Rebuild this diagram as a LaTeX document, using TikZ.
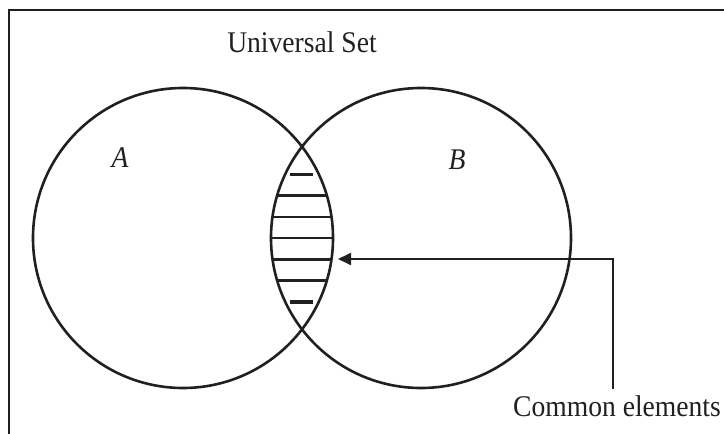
\documentclass[tikz,border=0pt]{standalone}
\usepackage{fontspec}
\setmainfont{Liberation Serif}[FakeStretch=0.92]
\usepackage{tikz}
\usetikzlibrary{arrows.meta, positioning, calc}
\definecolor{mydark}{RGB}{35,31,32}
\tikzset{
  setcircle/.style={circle, draw=mydark, minimum size=150pt,
    inner sep=0pt, line width=1.3pt},
  frameline/.style={draw=mydark, line width=1.3pt},
  hatch/.style={mydark, line width=1.2pt},
  shorthatch/.style={mydark, line width=1.6pt},
  pointer/.style={-{Triangle[length=6.5pt, width=6pt]}, line width=0.9pt, color=mydark},
  label/.style={font=\fontsize{15}{18}\selectfont, text=mydark, inner sep=0pt}
}

\begin{document}
\begin{tikzpicture}[x=0.5pt, y=-0.5pt]
  \useasboundingbox (0,0) rectangle (724,434);
  \clip (0,0) rectangle (724,434);

  % Frame (universal set)
  \draw[frameline] (9,10) rectangle (760,470);
  \node[label] (univ) at (302,42) {Universal Set};

  % Sets
  \node[setcircle] (setA) at (183,238) {};
  \node[setcircle] (setB) at (421,238) {};
  \node[label] (labA) at (120,158) {\textit{A}};
  \node[label] (labB) at (457,160) {\textit{B}};

  % Hatching of the intersection
  \begin{scope}
    \clip (setA.center) circle (75pt);
    \clip (setB.center) circle (75pt);
    \foreach \k in {-2,...,2}
      \draw[hatch] (250,238+21.3*\k) -- (360,238+21.3*\k);
  \end{scope}
  \draw[shorthatch] (290,174.5) -- (313,174.5);
  \draw[shorthatch] (290,302) -- (313,302);

  % Pointer to common elements
  \node[label, anchor=base] (common) at (617,416) {Common elements};
  \coordinate (tail) at (613,389);
  \coordinate (bend) at (613,259);
  \coordinate (tip) at (338,259);
  \draw[pointer] (tail) -- (bend) -- (tip);
\end{tikzpicture}
\end{document}
